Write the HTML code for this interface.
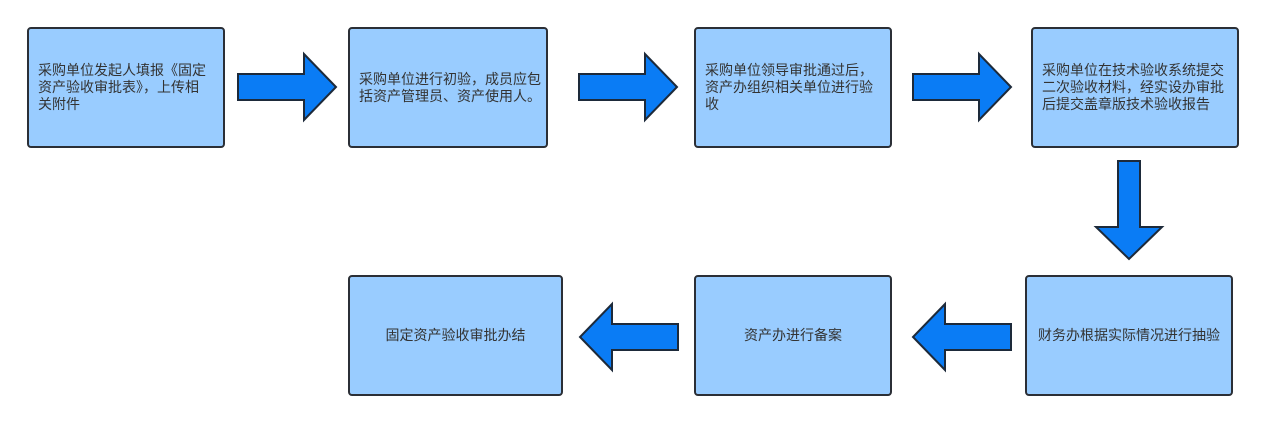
<!DOCTYPE html><html><head><meta charset="utf-8"><style>
body{margin:0;width:1264px;height:423px;background:#fff;position:relative;overflow:hidden;font-family:"Noto Sans CJK SC","Liberation Sans",sans-serif}
.b{position:absolute;box-sizing:border-box;background:#99ccff;border:2px solid #2b2f36;border-radius:4px;display:flex;align-items:center;padding:0 4px 0 9px;font-size:14px;line-height:17px;color:#333}
.c{justify-content:center;text-align:center;padding:0}
svg{position:absolute;left:0;top:0}
</style></head><body>
<div class="b" style="left:27px;top:27px;width:198px;height:121px">采购单位发起人填报《固定<br>资产验收审批表》，上传相<br>关附件</div>
<div class="b" style="left:348px;top:27px;width:200px;height:121px">采购单位进行初验，成员应包<br>括资产管理员、资产使用人。</div>
<div class="b" style="left:694px;top:27px;width:198px;height:121px">采购单位领导审批通过后，<br>资产办组织相关单位进行验<br>收</div>
<div class="b" style="left:1031px;top:27px;width:208px;height:121px">采购单位在技术验收系统提交<br>二次验收材料，经实设办审批<br>后提交盖章版技术验收报告</div>
<div class="b c" style="left:348px;top:275px;width:215px;height:121px">固定资产验收审批办结</div>
<div class="b c" style="left:694px;top:275px;width:198px;height:121px">资产办进行备案</div>
<div class="b c" style="left:1025px;top:275px;width:208px;height:121px">财务办根据实际情况进行抽验</div>
<svg width="1264" height="423"><g fill="#0a7cf5" stroke="#1d2a3a" stroke-width="2" stroke-linejoin="miter">
<polygon points="238,74 304,74 304,54 336,87 304,120 304,100 238,100"/>
<polygon points="579,74 645,74 645,54 677,87 645,120 645,100 579,100"/>
<polygon points="913,74 979,74 979,54 1011,87 979,120 979,100 913,100"/>
<polygon points="1118,161 1140,161 1140,227 1162,227 1129,259 1096,227 1118,227"/>
<polygon points="1011,324 945,324 945,304 913,337 945,370 945,350 1011,350"/>
<polygon points="678,324 612,324 612,304 580,337 612,370 612,350 678,350"/>
</g></svg>
</body></html>
